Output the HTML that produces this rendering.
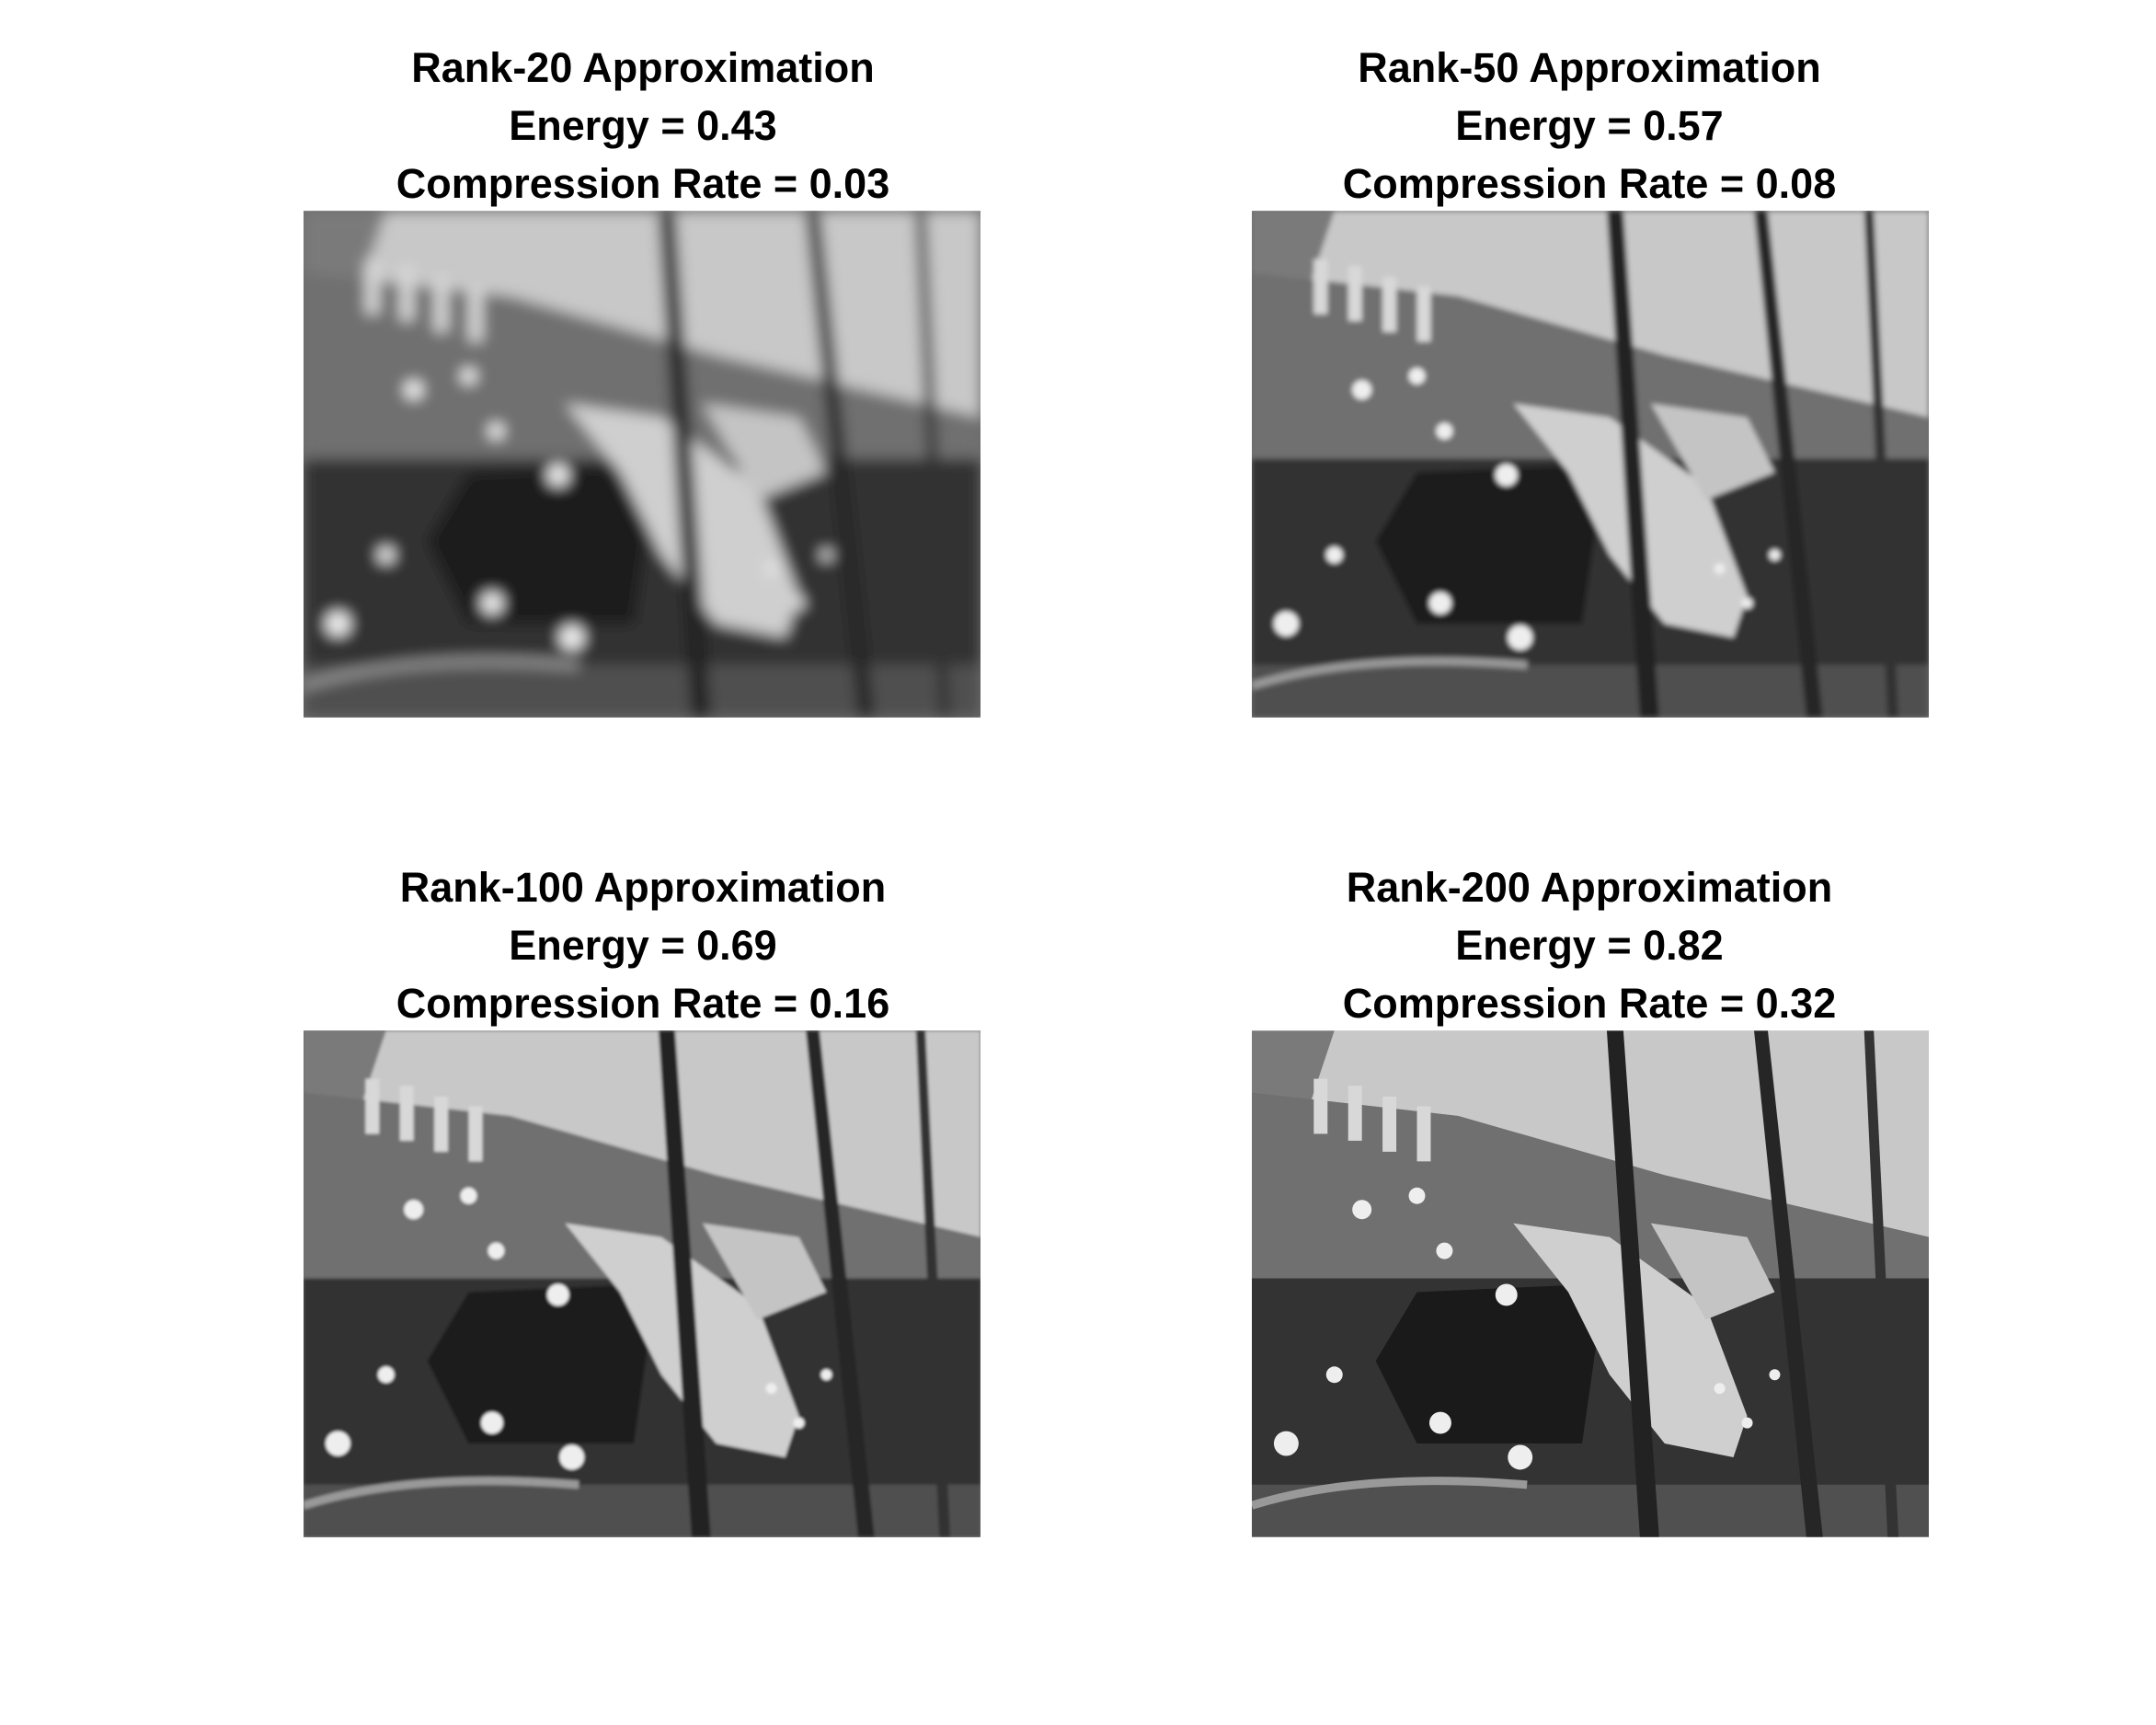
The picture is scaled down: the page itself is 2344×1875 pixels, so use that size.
<!DOCTYPE html>
<html><head><meta charset="utf-8"><style>
html,body{margin:0;padding:0;background:#fff;}
body{width:2344px;height:1875px;position:relative;overflow:hidden;font-family:"Liberation Sans",Arial,sans-serif;}
.title{position:absolute;width:900px;text-align:center;font-weight:bold;font-size:45px;line-height:63px;color:#000;}
svg.img{position:absolute;width:736px;height:551px;}
</style></head><body>
<svg width="0" height="0" style="position:absolute">
<defs>
<filter id="blur1"><feGaussianBlur stdDeviation="5"/></filter>
<filter id="blur2"><feGaussianBlur stdDeviation="2"/></filter>
<filter id="blur3"><feGaussianBlur stdDeviation="1"/></filter>
<symbol id="scene" viewBox="0 0 492 368">
<rect x="0" y="0" width="492" height="368" fill="#6e6e6e"/>
<polygon points="0,0 492,0 492,150 300,105 150,62 0,45" fill="#c8c8c8"/>
<polygon points="0,0 60,0 40,60 0,90" fill="#7a7a7a"/>
<polygon points="0,45 150,62 300,105 492,150 492,190 0,180" fill="#707070"/>
<rect x="0" y="180" width="492" height="150" fill="#333"/>
<polygon points="120,190 230,185 250,230 240,300 120,300 90,240" fill="#1a1a1a"/>
<polygon points="190,140 260,150 330,200 360,280 350,310 300,300 260,250 230,190" fill="#cfcfcf"/>
<polygon points="290,140 360,150 380,190 330,210" fill="#c4c4c4"/>
<rect x="0" y="330" width="492" height="38" fill="#505050"/>
<path d="M0,345 Q80,320 200,330" stroke="#999" stroke-width="6" fill="none"/>
<polygon points="258,0 270,0 296,368 282,368" fill="#222"/>
<polygon points="365,0 375,0 415,368 403,368" fill="#262626"/>
<polygon points="445,0 452,0 470,368 462,368" fill="#333"/>
<g fill="#eee">
<circle cx="80" cy="130" r="7"/><circle cx="120" cy="120" r="6"/><circle cx="140" cy="160" r="6"/>
<circle cx="185" cy="192" r="8"/><circle cx="137" cy="285" r="8"/><circle cx="195" cy="310" r="9"/>
<circle cx="25" cy="300" r="9"/><circle cx="60" cy="250" r="6"/><circle cx="340" cy="260" r="4"/>
<circle cx="360" cy="285" r="4"/><circle cx="380" cy="250" r="4"/>
</g>
<g fill="#d8d8d8"><rect x="45" y="35" width="10" height="40"/><rect x="70" y="40" width="10" height="40"/><rect x="95" y="48" width="10" height="40"/><rect x="120" y="55" width="10" height="40"/></g>
</symbol>
</defs>
</svg>

<div class="title" style="left:249px;top:42px">Rank-20 Approximation<br>Energy = 0.43<br>Compression Rate = 0.03</div>
<div class="title" style="left:1278px;top:42px">Rank-50 Approximation<br>Energy = 0.57<br>Compression Rate = 0.08</div>
<div class="title" style="left:249px;top:933px">Rank-100 Approximation<br>Energy = 0.69<br>Compression Rate = 0.16</div>
<div class="title" style="left:1278px;top:933px">Rank-200 Approximation<br>Energy = 0.82<br>Compression Rate = 0.32</div>

<svg class="img" style="left:330px;top:229px" viewBox="0 0 492 368"><rect width="492" height="368" fill="#6e6e6e"/><use href="#scene" width="492" height="368" filter="url(#blur1)"/></svg>
<svg class="img" style="left:1361px;top:229px" viewBox="0 0 492 368"><rect width="492" height="368" fill="#6e6e6e"/><use href="#scene" width="492" height="368" filter="url(#blur2)"/></svg>
<svg class="img" style="left:330px;top:1120px" viewBox="0 0 492 368"><rect width="492" height="368" fill="#6e6e6e"/><use href="#scene" width="492" height="368" filter="url(#blur3)"/></svg>
<svg class="img" style="left:1361px;top:1120px" viewBox="0 0 492 368"><use href="#scene" width="492" height="368"/></svg>
</body></html>
